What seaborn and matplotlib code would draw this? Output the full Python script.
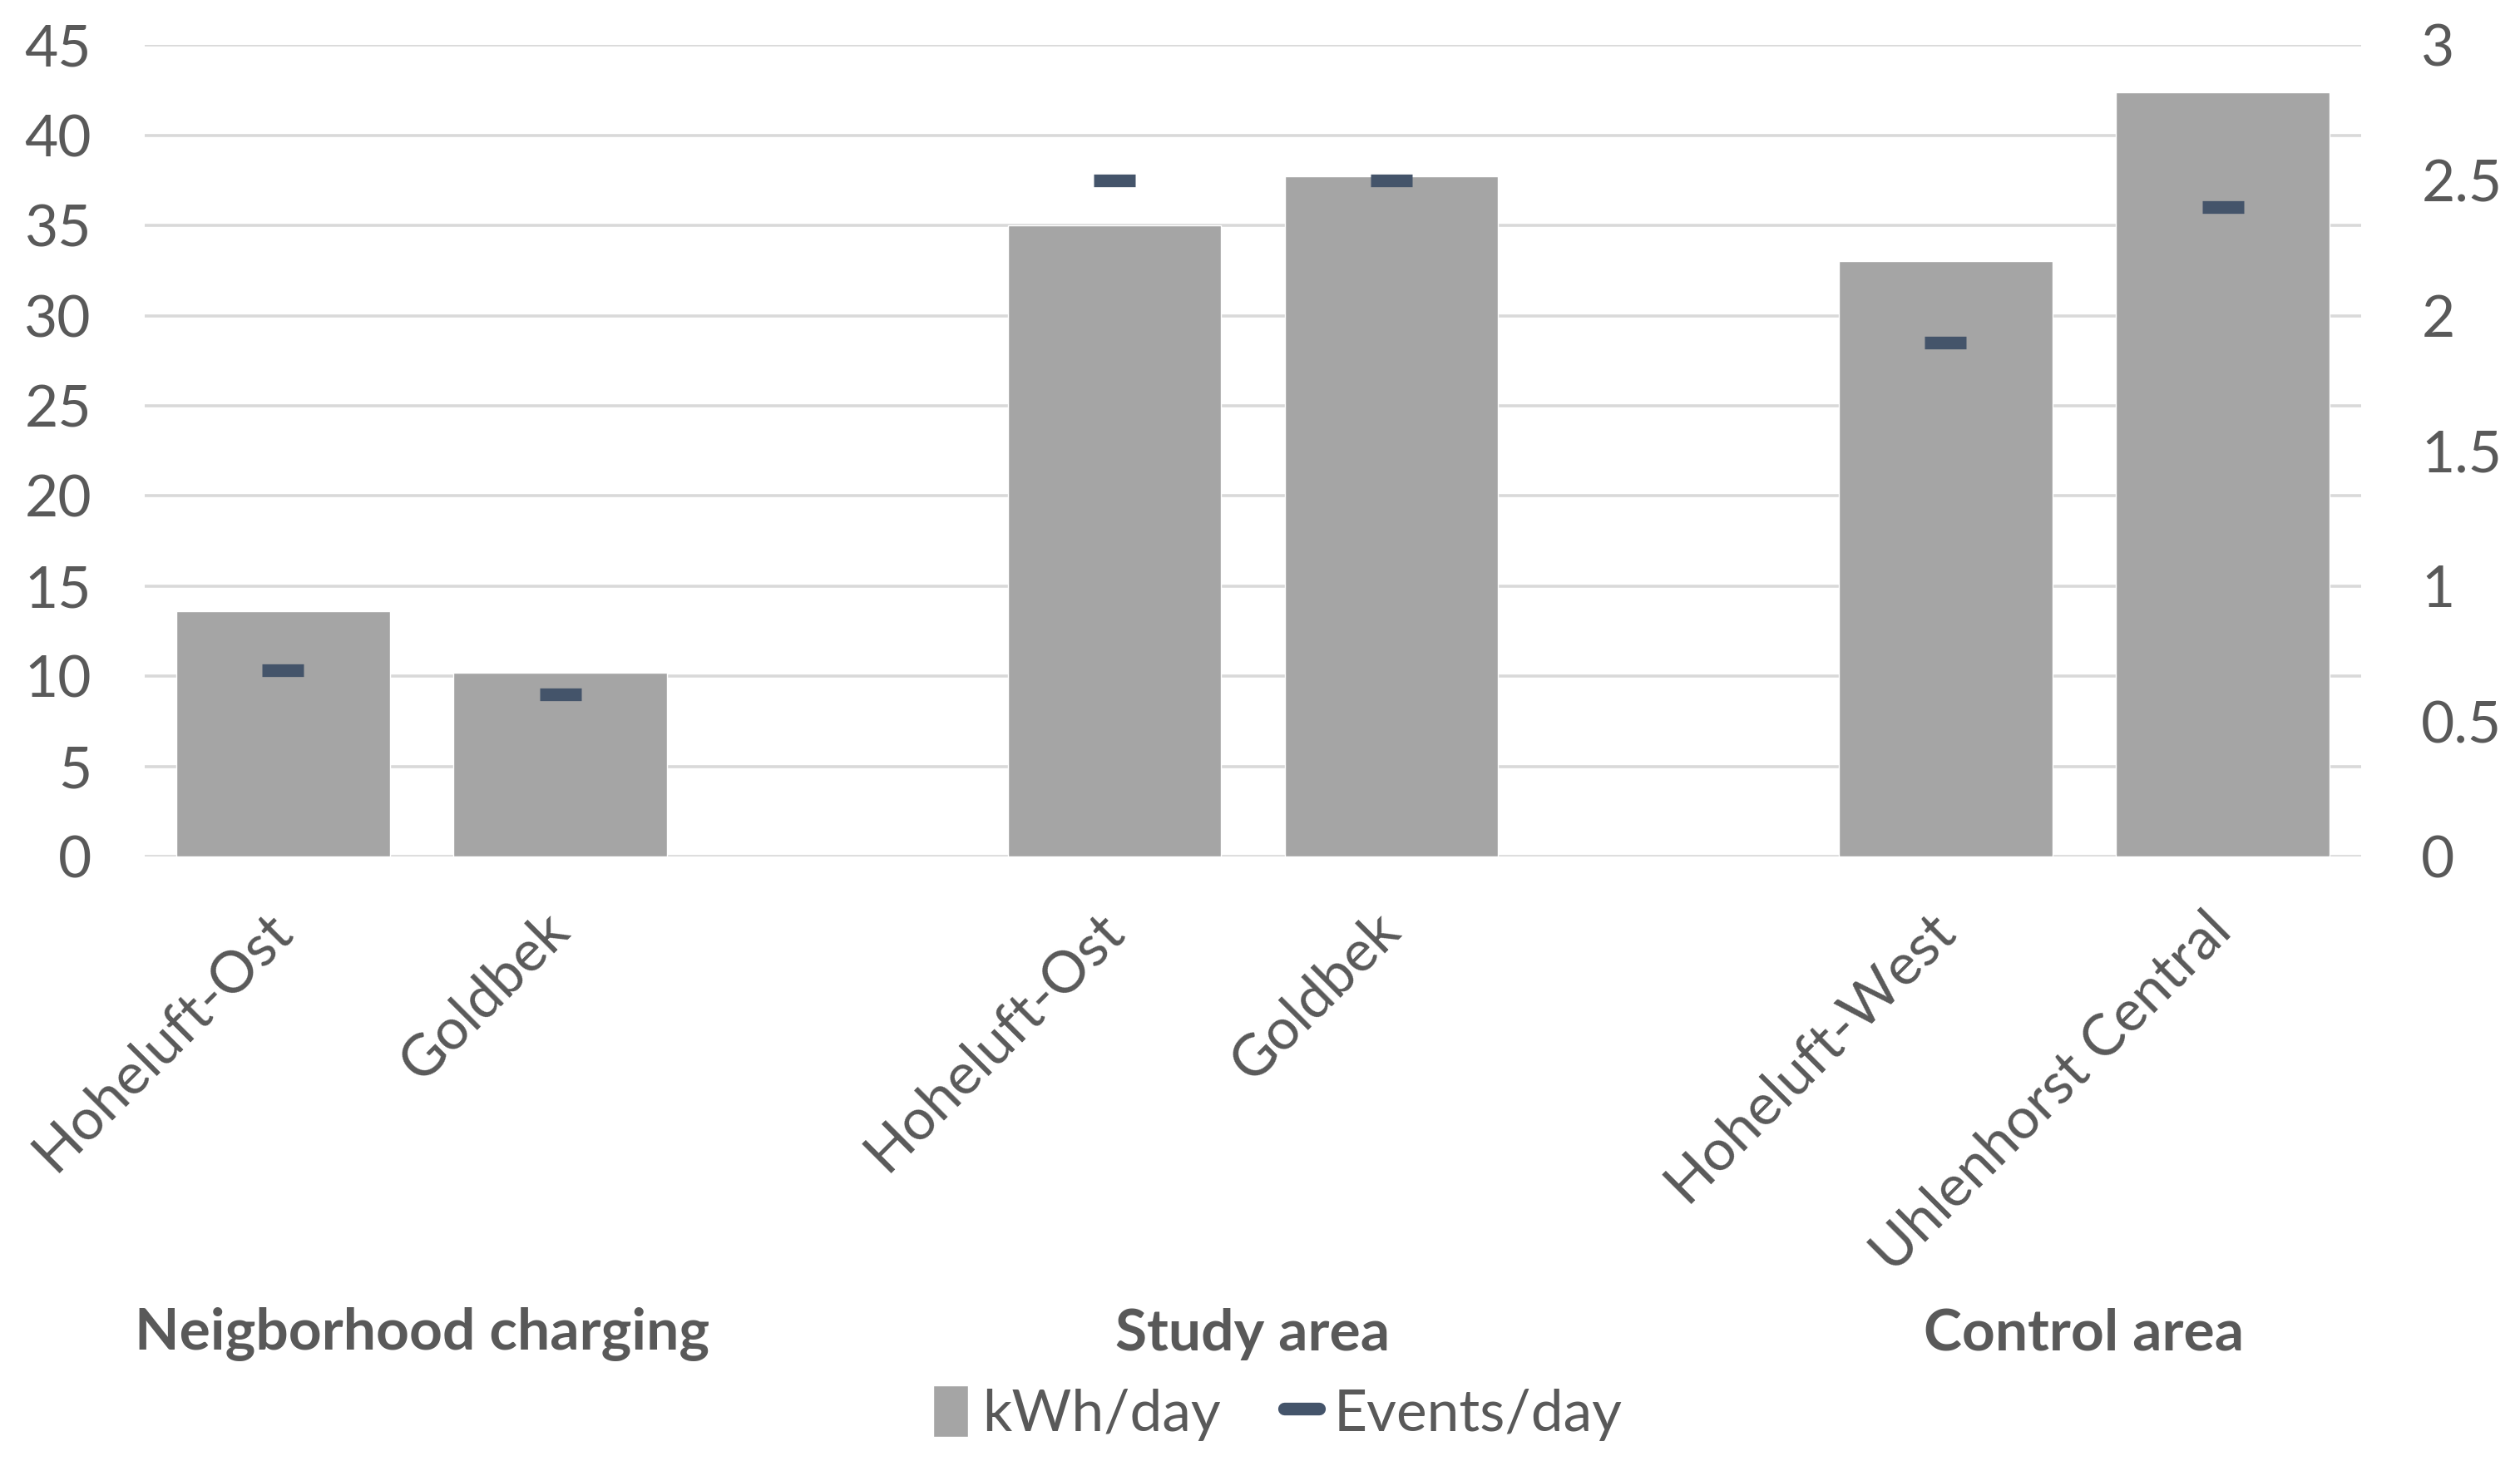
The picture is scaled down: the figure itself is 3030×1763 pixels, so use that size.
import pandas as pd
import seaborn as sns
import matplotlib.pyplot as plt
from matplotlib.ticker import FuncFormatter
from matplotlib.patches import Patch
from matplotlib.lines import Line2D
from matplotlib.transforms import blended_transform_factory

# --- DATA ---
group_names = ['Neigborhood charging', 'Study area', 'Control area']
sites = ['Hoheluft-Ost', 'Goldbek', 'Hoheluft-Ost', 'Goldbek', 'Hoheluft-West', 'Uhlenhorst Central']
site_groups = ['Neigborhood charging', 'Neigborhood charging', 'Study area', 'Study area',
               'Control area', 'Control area']
kwh_per_day = [13.6, 10.2, 35.0, 37.7, 33.0, 42.4]
events_per_day = [0.69, 0.60, 2.50, 2.50, 1.90, 2.40]

df = pd.DataFrame({'group': site_groups, 'site': sites,
                   'kwh': kwh_per_day, 'events': events_per_day})
df['key'] = df['group'] + ' | ' + df['site']

# category order with an empty slot between groups (like the Excel chart)
order = []
tick_labels = []
for i, g in enumerate(group_names):
    sub = df[df['group'] == g]
    order += list(sub['key'])
    tick_labels += list(sub['site'])
    if i < len(group_names) - 1:
        order.append('gap %d' % i)
        tick_labels.append('')

BAR = '#a5a5a5'
MARK = '#44546a'
TXT = '#595959'
GRID = '#d9d9d9'
FS = 50

sns.set_theme(style='white')
plt.rcParams['font.family'] = ['Lato', 'DejaVu Sans']
plt.rcParams['text.color'] = TXT

fig = plt.figure(figsize=(30.3, 17.63), dpi=100)
ax = fig.add_axes([0.0574, 0.4156, 0.8796, 0.5537])

sns.barplot(data=df, x='key', y='kwh', order=order, color=BAR, saturation=1,
            width=0.77, ax=ax, zorder=2)
ax.set_ylim(0, 45)
ax.set_yticks(range(0, 46, 5))
ax.grid(axis='y', color=GRID, lw=2.6, zorder=0)
ax.set_axisbelow(True)

# events/day on the secondary axis, drawn as short dashes
ax2 = ax.twinx()
sns.pointplot(data=df, x='key', y='events', order=order, color=MARK,
              linestyle='none', marker='_', markersize=36, markeredgewidth=11,
              errorbar=None, ax=ax2, zorder=3)
ax2.set_ylim(0, 3)
ax2.set_yticks([0, 0.5, 1, 1.5, 2, 2.5, 3])
ax2.yaxis.set_major_formatter(FuncFormatter(lambda v, p: '{:g}'.format(v)))
ax2.grid(False)
ax.set_xlim(-0.5, len(order) - 0.5)

for a in (ax, ax2):
    for s in a.spines.values():
        s.set_visible(False)
    a.set_xlabel('')
    a.set_ylabel('')
    a.tick_params(length=0, labelsize=FS, labelcolor=TXT)

ax.tick_params(axis='y', pad=46)
ax2.tick_params(axis='y', pad=52)

ax.set_xticks(range(len(order)))
ax.set_xticklabels(tick_labels, rotation=45, ha='right', va='center',
                   rotation_mode='anchor')
ax.tick_params(axis='x', pad=56)

# group labels under the site names
trans = blended_transform_factory(ax.transData, fig.transFigure)
for g in group_names:
    pos = [order.index(k) for k in df.loc[df['group'] == g, 'key']]
    ax.text(sum(pos) / len(pos), 0.090, g, transform=trans,
            ha='center', va='center', fontsize=FS, fontweight='bold', color=TXT)

handles = [Patch(facecolor=BAR, label='kWh/day'),
           Line2D([], [], color=MARK, lw=11, label='Events/day')]
fig.legend(handles=handles, loc='center', bbox_to_anchor=(0.507, 0.036), ncol=2,
           frameon=False, fontsize=FS, handlelength=0.6, handleheight=1.0,
           handletextpad=0.25, columnspacing=1.1)

fig.savefig('out.png', dpi=100)
